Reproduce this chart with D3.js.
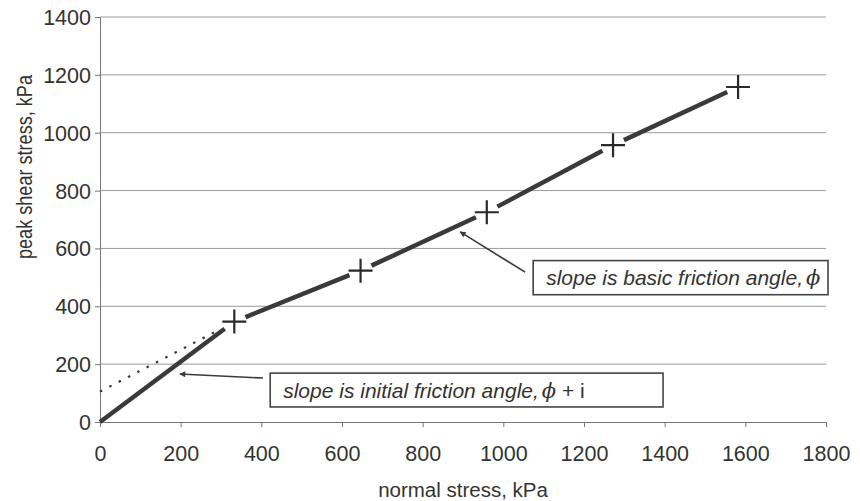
<!DOCTYPE html>
<html>
<head>
<meta charset="utf-8">
<script src="https://cdn.jsdelivr.net/npm/d3@7"></script>
<style>
  body { margin: 0; background: #fff; }
  svg text { font-family: "Liberation Sans", Arial, sans-serif; fill: #333; }
</style>
</head>
<body>
<svg id="chart" width="860" height="501"></svg>
<script>
// test results
var normalStress = [333, 646, 959, 1272, 1582];
var peakShear = [347, 523, 725, 957, 1158];
var xTicks = [0, 200, 400, 600, 800, 1000, 1200, 1400, 1600, 1800];
var yTicks = [0, 200, 400, 600, 800, 1000, 1200, 1400];
// dotted extension of the basic friction line back to the shear axis
var dottedX = [0, 300];
var dottedY = [105, 322];

var svg = d3.select('#chart');

var x = d3.scaleLinear().domain([0, 1800]).range([100, 826]);
var y = d3.scaleLinear().domain([0, 1400]).range([422, 17]);

var ink = '#3a3a3a';

// gridlines
svg.append('g').selectAll('line')
    .data(yTicks.filter(function(d){ return d > 0; }))
    .enter().append('line')
    .attr('x1', x(0)).attr('x2', x(1800))
    .attr('y1', function(d){ return y(d); })
    .attr('y2', function(d){ return y(d); })
    .attr('stroke', '#9a9a9a')
    .attr('stroke-width', 1);

// axes
var xAxis = d3.axisBottom(x).tickValues(xTicks).tickSize(5).tickPadding(19).tickFormat(d3.format('d'));
var yAxis = d3.axisLeft(y).tickValues(yTicks).tickSize(5).tickPadding(4).tickFormat(d3.format('d'));

var gx = svg.append('g').attr('transform', 'translate(0,' + y(0) + ')').call(xAxis);
var gy = svg.append('g').attr('transform', 'translate(' + x(0) + ',0)').call(yAxis);

[gx, gy].forEach(function(g){
    g.select('.domain').attr('stroke', '#777');
    g.selectAll('.tick line').attr('stroke', '#777');
    g.selectAll('.tick text')
        .style('font-family', '"Liberation Sans", Arial, sans-serif')
        .style('font-size', '21.5px')
        .attr('fill', '#333');
});
gy.selectAll('.tick text').attr('dy', '0.35em');

// axis titles
svg.append('text')
    .attr('x', 463).attr('y', 497)
    .attr('text-anchor', 'middle')
    .style('font-size', '20.5px')
    .text('normal stress, kPa');

svg.append('text')
    .attr('transform', 'translate(32,' + 167 + ') rotate(-90)')
    .attr('text-anchor', 'middle')
    .attr('textLength', 184)
    .attr('lengthAdjust', 'spacingAndGlyphs')
    .style('font-size', '22px')
    .text('peak shear stress, kPa');

// dotted line
svg.append('line')
    .attr('x1', x(dottedX[0])).attr('y1', y(dottedY[0]))
    .attr('x2', x(dottedX[1])).attr('y2', y(dottedY[1]))
    .attr('stroke', ink)
    .attr('stroke-width', 2.2)
    .attr('stroke-dasharray', '2.5,8');

// thick line, broken around each marker
var pts = [[0, 0]].concat(normalStress.map(function(d, i){ return [d, peakShear[i]]; }));
var gap = 12;
var segs = [];
for (var i = 0; i < pts.length - 1; i++) {
    var p = [x(pts[i][0]), y(pts[i][1])];
    var q = [x(pts[i + 1][0]), y(pts[i + 1][1])];
    var len = Math.hypot(q[0] - p[0], q[1] - p[1]);
    var ux = (q[0] - p[0]) / len, uy = (q[1] - p[1]) / len;
    var g0 = i === 0 ? 0 : gap;
    segs.push([p[0] + ux * g0, p[1] + uy * g0, q[0] - ux * gap, q[1] - uy * gap]);
}
svg.append('g').selectAll('line')
    .data(segs)
    .enter().append('line')
    .attr('x1', function(d){ return d[0]; })
    .attr('y1', function(d){ return d[1]; })
    .attr('x2', function(d){ return d[2]; })
    .attr('y2', function(d){ return d[3]; })
    .attr('stroke', ink)
    .attr('stroke-width', 4.5);

// cross markers
svg.append('g').selectAll('path')
    .data(normalStress)
    .enter().append('path')
    .attr('transform', function(d, i){ return 'translate(' + x(d) + ',' + y(peakShear[i]) + ')'; })
    .attr('d', 'M-12,0H12M0,-12V12')
    .attr('stroke', '#2a2a2a')
    .attr('stroke-width', 2.2)
    .attr('fill', 'none');

// arrow heads
svg.append('defs').append('marker')
    .attr('id', 'head')
    .attr('viewBox', '0 0 10 10')
    .attr('refX', 9).attr('refY', 5)
    .attr('markerWidth', 11).attr('markerHeight', 6)
    .attr('markerUnits', 'userSpaceOnUse')
    .attr('orient', 'auto')
    .append('path')
    .attr('d', 'M0,0L10,5L0,10Z')
    .attr('fill', ink);

// annotations: box anchor in data units
var notes = [
    {text: 'slope is basic friction angle,', tail: [1054, 518], tip: [893, 657], box: [1074, 558, 1805, 440], suffix: ''},
    {text: 'slope is initial friction angle,', tail: [404, 152], tip: [198, 166], box: [422, 169, 1396, 52], suffix: ' + i'}
];

notes.forEach(function(n){
    svg.append('line')
        .attr('x1', x(n.tail[0])).attr('y1', y(n.tail[1]))
        .attr('x2', x(n.tip[0])).attr('y2', y(n.tip[1]))
        .attr('stroke', ink)
        .attr('stroke-width', 1.6)
        .attr('marker-end', 'url(#head)');

    var bx = x(n.box[0]), by = y(n.box[1]);
    var bw = x(n.box[2]) - bx, bh = y(n.box[3]) - by;
    svg.append('rect')
        .attr('x', bx).attr('y', by)
        .attr('width', bw).attr('height', bh)
        .attr('fill', '#fff')
        .attr('stroke', '#444')
        .attr('stroke-width', 1.6);

    var t = svg.append('text')
        .attr('x', bx + 13).attr('y', by + bh / 2 + 7.5)
        .style('font-size', '21px')
        .style('font-style', 'italic');
    t.append('tspan').text(n.text);
    t.append('tspan').text('\u03D5').style('font-family', '"DejaVu Serif", serif').attr('dx', 3);
    if (n.suffix) t.append('tspan').text(n.suffix).style('font-style', 'normal');
});
</script>
</body>
</html>
